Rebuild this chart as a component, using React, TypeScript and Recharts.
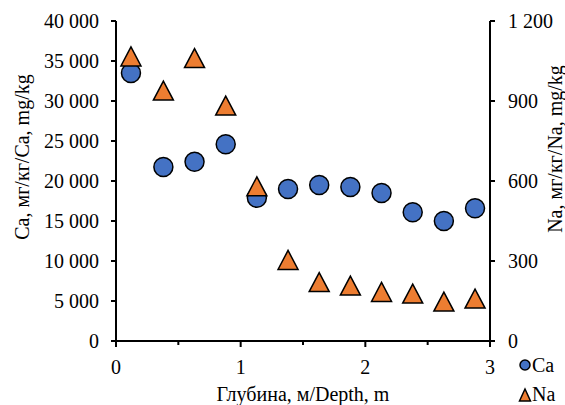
import { ScatterChart, Scatter, XAxis, YAxis } from 'recharts';

const depths = [0.12, 0.38, 0.63, 0.88, 1.13, 1.38, 1.63, 1.88, 2.13, 2.38, 2.63, 2.88];
const caValues = [33500, 21750, 22400, 24600, 17900, 19000, 19500, 19250, 18500, 16100, 15000, 16600];
const naValues = [1067, 939, 1061, 883, 580, 304, 221, 208, 184, 178, 148, 159];

const xTicks = [0, 0.5, 1, 1.5, 2, 2.5, 3];
const caTicks = [0, 5000, 10000, 15000, 20000, 25000, 30000, 35000, 40000];
const naTicks = [0, 300, 600, 900, 1200];

const caData = depths.map((d, i) => ({ depth: d, value: caValues[i] }));
const naData = depths.map((d, i) => ({ depth: d, value: naValues[i] }));

const FONT = '"Liberation Serif", "Times New Roman", serif';
const FS = 20;
const CA_COLOR = '#4472C4';
const NA_COLOR = '#ED7D31';

const fmt = (v: number) => String(v).replace(/\B(?=(\d{3})+(?!\d))/g, ' ');

const XTick = (props: any) => {
    const { x, y, payload } = props;
    const major = Number.isInteger(payload.value);
    return (
        <g>
            <line x1={x} x2={x} y1={y} y2={y + (major ? 6 : 4)} stroke="#000" strokeWidth={2} />
            {major && (
                <text x={x} y={y + 33} textAnchor="middle" fontFamily={FONT} fontSize={FS} fill="#000">
                    {payload.value}
                </text>
            )}
        </g>
    );
};

const CircleShape = (props: any) => (
    <circle cx={props.cx} cy={props.cy} r={9.5} fill={CA_COLOR} stroke="#000" strokeWidth={1.5} />
);

const TriangleShape = (props: any) => {
    const { cx, cy } = props;
    const w = 10;
    const h = 9.5;
    return (
        <path
            d={`M${cx},${cy - h} L${cx + w},${cy + h} L${cx - w},${cy + h} Z`}
            fill={NA_COLOR}
            stroke="#000"
            strokeWidth={1.5}
        />
    );
};

function App() {
    return (
        <div style={{ position: 'absolute', left: 0, top: 0, width: 565, height: 405, background: '#fff' }}>
            <ScatterChart width={565} height={405} margin={{ top: 21, right: 0, bottom: 0, left: 0 }}>
                <XAxis
                    type="number"
                    dataKey="depth"
                    domain={[0, 3]}
                    ticks={xTicks}
                    interval={0}
                    height={64}
                    tickSize={0}
                    tickMargin={0}
                    tickLine={false}
                    axisLine={{ stroke: '#000', strokeWidth: 2 }}
                    tick={<XTick />}
                    label={{
                        value: 'Глубина, м/Depth, m',
                        content: () => (
                            <text x={303} y={401} textAnchor="middle" fontFamily={FONT} fontSize={FS} fill="#000">
                                Глубина, м/Depth, m
                            </text>
                        ),
                    }}
                />
                <YAxis
                    yAxisId="left"
                    type="number"
                    dataKey="value"
                    domain={[0, 40000]}
                    ticks={caTicks}
                    interval={0}
                    width={116}
                    tickSize={5}
                    tickMargin={12}
                    tickFormatter={fmt}
                    tickLine={{ stroke: '#000', strokeWidth: 2 }}
                    axisLine={{ stroke: '#000', strokeWidth: 2 }}
                    tick={{ fill: '#000', fontFamily: FONT, fontSize: FS }}
                    label={{
                        value: 'Ca, мг/кг/Ca, mg/kg',
                        content: () => (
                            <text
                                x={22}
                                y={157}
                                transform="rotate(-90 22 157)"
                                textAnchor="middle"
                                dominantBaseline="central"
                                fontFamily={FONT}
                                fontSize={FS}
                                fill="#000"
                            >
                                Ca, мг/кг/Ca, mg/kg
                            </text>
                        ),
                    }}
                />
                <YAxis
                    yAxisId="right"
                    orientation="right"
                    type="number"
                    dataKey="value"
                    domain={[0, 1200]}
                    ticks={naTicks}
                    interval={0}
                    width={75}
                    tickSize={5}
                    tickMargin={13}
                    tickFormatter={fmt}
                    tickLine={{ stroke: '#000', strokeWidth: 2 }}
                    axisLine={{ stroke: '#000', strokeWidth: 2 }}
                    tick={{ fill: '#000', fontFamily: FONT, fontSize: FS, textAnchor: 'start' }}
                    label={{
                        value: 'Na, мг/кг/Na, mg/kg',
                        content: () => (
                            <text
                                x={555}
                                y={149}
                                transform="rotate(-90 555 149)"
                                textAnchor="middle"
                                dominantBaseline="central"
                                fontFamily={FONT}
                                fontSize={FS}
                                fill="#000"
                            >
                                Na, мг/кг/Na, mg/kg
                            </text>
                        ),
                    }}
                />
                <Scatter
                    name="Ca"
                    data={caData}
                    yAxisId="left"
                    shape={<CircleShape />}
                    isAnimationActive={false}
                />
                <Scatter
                    name="Na"
                    data={naData}
                    yAxisId="right"
                    shape={<TriangleShape />}
                    isAnimationActive={false}
                />
            </ScatterChart>
            <svg
                width={70}
                height={60}
                style={{ position: 'absolute', left: 495, top: 345, overflow: 'visible' }}
            >
                <circle cx={30} cy={20} r={5} fill={CA_COLOR} stroke="#000" strokeWidth={1.5} />
                <text x={37} y={27} fontFamily={FONT} fontSize={FS} fill="#000">Ca</text>
                <path d="M30,44 L35.5,56 L24.5,56 Z" fill={NA_COLOR} stroke="#000" strokeWidth={1.5} />
                <text x={37} y={56} fontFamily={FONT} fontSize={FS} fill="#000">Na</text>
            </svg>
        </div>
    );
}

export default App;
